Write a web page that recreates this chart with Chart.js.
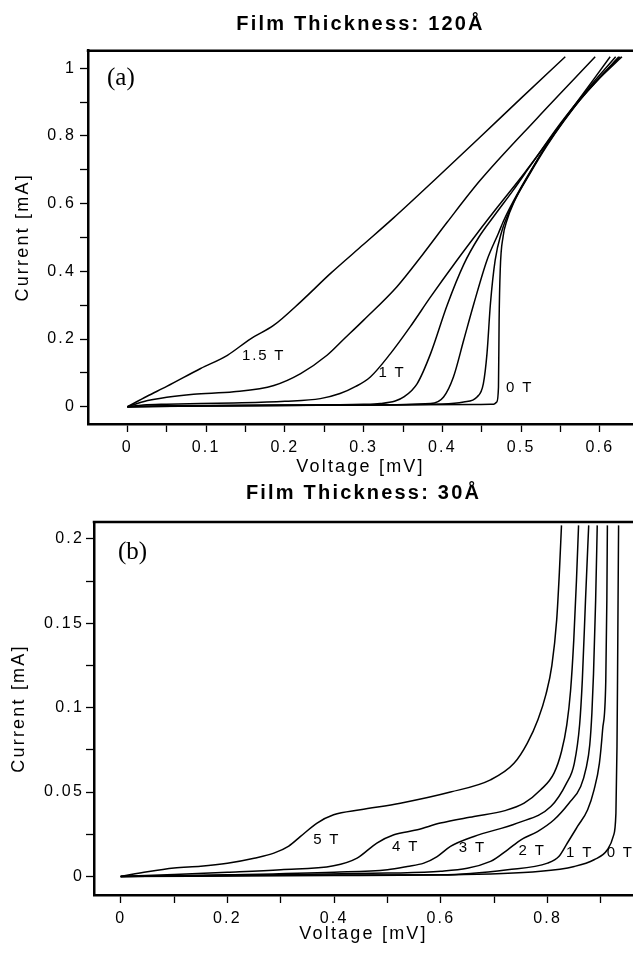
<!DOCTYPE html>
<html>
<head>
<meta charset="utf-8">
<script src="https://cdn.jsdelivr.net/npm/chart.js@4.4.1/dist/chart.umd.min.js"></script>
<style>
  body { margin: 0; background: #fff; }
  .wrap { position: relative; width: 633px; height: 954px; }
  canvas { position: absolute; left: 0; }
  #chartA { top: 0; }
  #chartB { top: 480px; }
</style>
</head>
<body>
<div class="wrap">
  <canvas id="chartA" width="633" height="480"></canvas>
  <canvas id="chartB" width="633" height="474"></canvas>
</div>
<script>
// ---- panel (a): 120 A film, [voltage mV, current mA]
const fieldsA = ["1.5 T", "1.25 T", "1 T", "0.75 T", "0.5 T", "0.25 T", "0 T"];
const curveA150 = [[0,0],[0.025,0.031],[0.05,0.06],[0.093,0.113],[0.127,0.152],[0.156,0.2],[0.186,0.241],[0.22,0.31],[0.258,0.394],[0.3,0.48],[0.338,0.558],[0.39,0.67],[0.448,0.797],[0.5,0.912],[0.556,1.034]];
const curveA125 = [[0,0],[0.02,0.015],[0.05,0.028],[0.084,0.037],[0.135,0.044],[0.186,0.063],[0.22,0.098],[0.2535,0.152],[0.275,0.2],[0.3,0.256],[0.342,0.354],[0.375,0.45],[0.406,0.545],[0.448,0.669],[0.52,0.852],[0.594,1.034]];
const curveA100 = [[0,0],[0.02,0.005],[0.05,0.0074],[0.135,0.011],[0.2,0.016],[0.245,0.024],[0.27,0.039],[0.29,0.06],[0.3085,0.088],[0.334,0.157],[0.359,0.236],[0.385,0.3245],[0.4185,0.433],[0.444,0.512],[0.47,0.59],[0.504,0.69],[0.555,0.85],[0.613,1.034]];
const curveA075 = [[0,0],[0.05,0.003],[0.2,0.005],[0.3,0.007],[0.321,0.0094],[0.34,0.017],[0.351,0.029],[0.368,0.0686],[0.385,0.157],[0.406,0.3],[0.427,0.42],[0.446,0.5],[0.466,0.565],[0.49,0.64],[0.512,0.713],[0.55,0.838],[0.585,0.94],[0.62,1.034]];
const curveA050 = [[0,0],[0.1,0.003],[0.3,0.005],[0.385,0.0094],[0.4015,0.029],[0.414,0.088],[0.427,0.1965],[0.44,0.305],[0.4566,0.433],[0.471,0.512],[0.478,0.551],[0.49,0.607],[0.5115,0.695],[0.533,0.775],[0.554,0.845],[0.575,0.908],[0.596,0.963],[0.624,1.034]];
const curveA025 = [[0,0],[0.2,0.004],[0.4,0.008],[0.427,0.014],[0.444,0.029],[0.452,0.0686],[0.4566,0.157],[0.461,0.305],[0.467,0.433],[0.4756,0.52],[0.481,0.555],[0.49,0.603],[0.512,0.695],[0.533,0.776],[0.554,0.846],[0.575,0.91],[0.596,0.964],[0.626,1.034]];
const curveA000 = [[0,0],[0.1,0.003],[0.258,0.005],[0.44,0.0065],[0.465,0.0075],[0.469,0.014],[0.4712,0.0586],[0.472,0.2556],[0.4734,0.4034],[0.477,0.502],[0.482,0.551],[0.49,0.6],[0.5115,0.69],[0.533,0.772],[0.554,0.843],[0.575,0.907],[0.596,0.962],[0.628,1.034]];
const xTicksA = [0,0.05,0.1,0.15,0.2,0.25,0.3,0.35,0.4,0.45,0.5,0.55,0.6];
const xMajorA = [0,0.1,0.2,0.3,0.4,0.5,0.6];
const yTicksA = [0,0.1,0.2,0.3,0.4,0.5,0.6,0.7,0.8,0.9,1];
const yMajorA = [0,0.2,0.4,0.6,0.8,1];
const tagsA = ["1.5 T", "1 T", "0 T"];
const tagXA = [0.173, 0.336, 0.498];
const tagYA = [0.149, 0.100, 0.055];

// ---- panel (b): 30 A film
const fieldsB = ["5 T", "4 T", "3 T", "2 T", "1 T", "0 T"];
const curveB5 = [[0,0],[0.05,0.0028],[0.1,0.005],[0.15,0.006],[0.2,0.0078],[0.25,0.0108],[0.287,0.0138],[0.315,0.018],[0.337,0.0237],[0.368,0.0316],[0.399,0.0365],[0.449,0.0395],[0.524,0.0434],[0.618,0.05],[0.693,0.0572],[0.737,0.067],[0.762,0.079],[0.782,0.093],[0.797,0.108],[0.808,0.125],[0.817,0.152],[0.822,0.18],[0.826,0.208]];
const curveB4 = [[0,0],[0.1,0.0012],[0.2,0.0025],[0.3,0.004],[0.399,0.0063],[0.443,0.0109],[0.48,0.0198],[0.512,0.0247],[0.556,0.0276],[0.599,0.0316],[0.662,0.0355],[0.72,0.039],[0.756,0.0434],[0.787,0.0513],[0.812,0.0612],[0.826,0.074],[0.836,0.09],[0.843,0.11],[0.849,0.14],[0.854,0.175],[0.858,0.208]];
const curveB3 = [[0,0],[0.2,0.001],[0.4,0.0025],[0.5,0.004],[0.537,0.0059],[0.568,0.0079],[0.593,0.0118],[0.618,0.0178],[0.662,0.0237],[0.743,0.0316],[0.806,0.0414],[0.835,0.055],[0.85,0.067],[0.86,0.09],[0.865,0.116],[0.871,0.1637],[0.877,0.208]];
const curveB2 = [[0,0],[0.3,0.001],[0.5,0.002],[0.6,0.003],[0.693,0.0089],[0.725,0.0158],[0.75,0.0217],[0.781,0.0266],[0.812,0.0336],[0.84,0.0434],[0.862,0.0533],[0.872,0.064],[0.879,0.078],[0.883,0.097],[0.886,0.12],[0.89,0.1637],[0.893,0.208]];
const curveB1 = [[0,0],[0.3,0.0008],[0.6,0.001],[0.725,0.004],[0.8,0.0079],[0.821,0.0118],[0.837,0.0198],[0.856,0.0296],[0.875,0.0395],[0.887,0.0513],[0.897,0.067],[0.903,0.0868],[0.909,0.116],[0.911,0.1637],[0.912,0.208]];
const curveB0 = [[0,0],[0.4,0.0005],[0.6,0.0008],[0.787,0.003],[0.85,0.0059],[0.887,0.0099],[0.912,0.0158],[0.923,0.0237],[0.928,0.0375],[0.93,0.0769],[0.931,0.116],[0.932,0.1637],[0.933,0.208]];
const xTicksB = [0,0.1,0.2,0.3,0.4,0.5,0.6,0.7,0.8,0.9];
const xMajorB = [0,0.2,0.4,0.6,0.8];
const yTicksB = [0,0.025,0.05,0.075,0.1,0.125,0.15,0.175,0.2];
const yMajorB = [0,0.05,0.1,0.15,0.2];
const tagsB = ["5 T", "4 T", "3 T", "2 T", "1 T", "0 T"];
const tagXB = [0.386, 0.534, 0.659, 0.771, 0.860, 0.936];
const tagYB = [0.0217, 0.0173, 0.0167, 0.0152, 0.014, 0.014];

const FONT = "'Liberation Sans', Arial, sans-serif";
const SPACING = "2.2px";

function majorLabel(majors) {
  return (v) => majors.some((m) => Math.abs(m - v) < 1e-9) ? String(+v.toFixed(3)) : "";
}

// box top edge, panel letter and the field labels on the curves
function panelPlugin(letter, dx, dy, tags, tagX, tagY) {
  return {
    id: "panel",
    beforeDraw(chart) {
      chart.ctx.letterSpacing = SPACING;
    },
    afterDatasetsDraw(chart) {
      const { ctx, chartArea: a, scales } = chart;
      ctx.save();
      ctx.strokeStyle = "#000";
      ctx.lineWidth = 2.5;
      ctx.beginPath();
      ctx.moveTo(a.left - 1.25, a.top);
      ctx.lineTo(a.right, a.top);
      ctx.stroke();
      ctx.fillStyle = "#000";
      ctx.letterSpacing = "0px";
      ctx.font = "25px 'Liberation Serif', 'Times New Roman', serif";
      ctx.textAlign = "left";
      ctx.textBaseline = "middle";
      ctx.fillText(letter, a.left + dx, a.top + dy);
      ctx.letterSpacing = "1.8px";
      ctx.font = "15px " + FONT;
      ctx.textAlign = "center";
      tags.forEach((t, i) => {
        ctx.fillText(t, scales.x.getPixelForValue(tagX[i]), scales.y.getPixelForValue(tagY[i]));
      });
      ctx.restore();
    },
  };
}

function makeChart(id, cfg) {
  const datasets = cfg.curves.map((c, i) => ({
    label: cfg.fields[i],
    data: c,
    borderColor: "#000",
    borderWidth: 1.5,
    pointRadius: 0,
    fill: false,
    cubicInterpolationMode: "monotone",
  }));
  const tickGrid = {
    display: true,
    drawOnChartArea: false,
    drawTicks: true,
    tickLength: 8,
    tickWidth: 1.3,
    tickColor: "#000",
  };
  return new Chart(document.getElementById(id), {
    type: "line",
    data: { datasets },
    options: {
      responsive: false,
      animation: false,
      devicePixelRatio: 1,
      layout: { padding: 0 },
      plugins: {
        legend: { display: false },
        tooltip: { enabled: false },
        title: {
          display: true,
          text: cfg.title,
          color: "#000",
          fullSize: false,
          font: { family: FONT, size: 20, weight: "bold" },
          padding: cfg.titlePad,
        },
      },
      scales: {
        x: {
          type: "linear",
          min: cfg.xMin,
          max: cfg.xMax,
          bounds: "data",
          border: { display: true, color: "#000", width: 2.5 },
          grid: tickGrid,
          ticks: {
            color: "#000",
            font: { family: FONT, size: 16 },
            padding: 6,
            autoSkip: false,
            maxRotation: 0,
            callback: majorLabel(cfg.xMajor),
          },
          afterBuildTicks: (s) => { s.ticks = cfg.xTicks.map((v) => ({ value: v })); },
          afterFit: (s) => { s.height = cfg.xHeight; s.paddingLeft = 0; s.paddingRight = 0; },
          title: {
            display: true,
            text: "Voltage [mV]",
            color: "#000",
            font: { family: FONT, size: 18 },
            padding: { top: 0, bottom: cfg.xTitlePad },
          },
        },
        y: {
          type: "linear",
          min: cfg.yMin,
          max: cfg.yMax,
          bounds: "data",
          border: { display: true, color: "#000", width: 2.5 },
          grid: tickGrid,
          ticks: {
            color: "#000",
            font: { family: FONT, size: 16 },
            padding: cfg.yTickPad,
            autoSkip: false,
            callback: majorLabel(cfg.yMajor),
          },
          afterBuildTicks: (s) => { s.ticks = cfg.yTicks.map((v) => ({ value: v })); },
          afterFit: (s) => { s.width = cfg.yWidth; s.paddingTop = 0; s.paddingBottom = 0; },
          title: {
            display: true,
            text: "Current [mA]",
            color: "#000",
            font: { family: FONT, size: 18 },
            padding: { top: cfg.yTitlePad, bottom: 0 },
          },
        },
      },
    },
    plugins: [panelPlugin(cfg.letter, cfg.letterDx, cfg.letterDy, cfg.tags, cfg.tagX, cfg.tagY)],
  });
}

makeChart("chartA", {
  title: "Film Thickness: 120Å",
  titlePad: { top: 12, bottom: 14.7 },
  fields: fieldsA,
  curves: [curveA150, curveA125, curveA100, curveA075, curveA050, curveA025, curveA000],
  xMin: -0.05, xMax: 0.642, yMin: -0.051, yMax: 1.052,
  xTicks: xTicksA, xMajor: xMajorA, yTicks: yTicksA, yMajor: yMajorA,
  xHeight: 56, yWidth: 88, xTitlePad: 2.2, yTitlePad: 12.7, yTickPad: 4,
  letter: "(a)", letterDx: 19, letterDy: 28,
  tags: tagsA, tagX: tagXA, tagY: tagYA,
});

makeChart("chartB", {
  title: "Film Thickness: 30Å",
  titlePad: { top: 1.5, bottom: 16.5 },
  fields: fieldsB,
  curves: [curveB5, curveB4, curveB3, curveB2, curveB1, curveB0],
  xMin: -0.05, xMax: 0.96, yMin: -0.011, yMax: 0.21,
  xTicks: xTicksB, xMajor: xMajorB, yTicks: yTicksB, yMajor: yMajorB,
  xHeight: 59, yWidth: 94, xTitlePad: 9.2, yTitlePad: 8.7, yTickPad: 2,
  letter: "(b)", letterDx: 24, letterDy: 30.5,
  tags: tagsB, tagX: tagXB, tagY: tagYB,
});
</script>
</body>
</html>
